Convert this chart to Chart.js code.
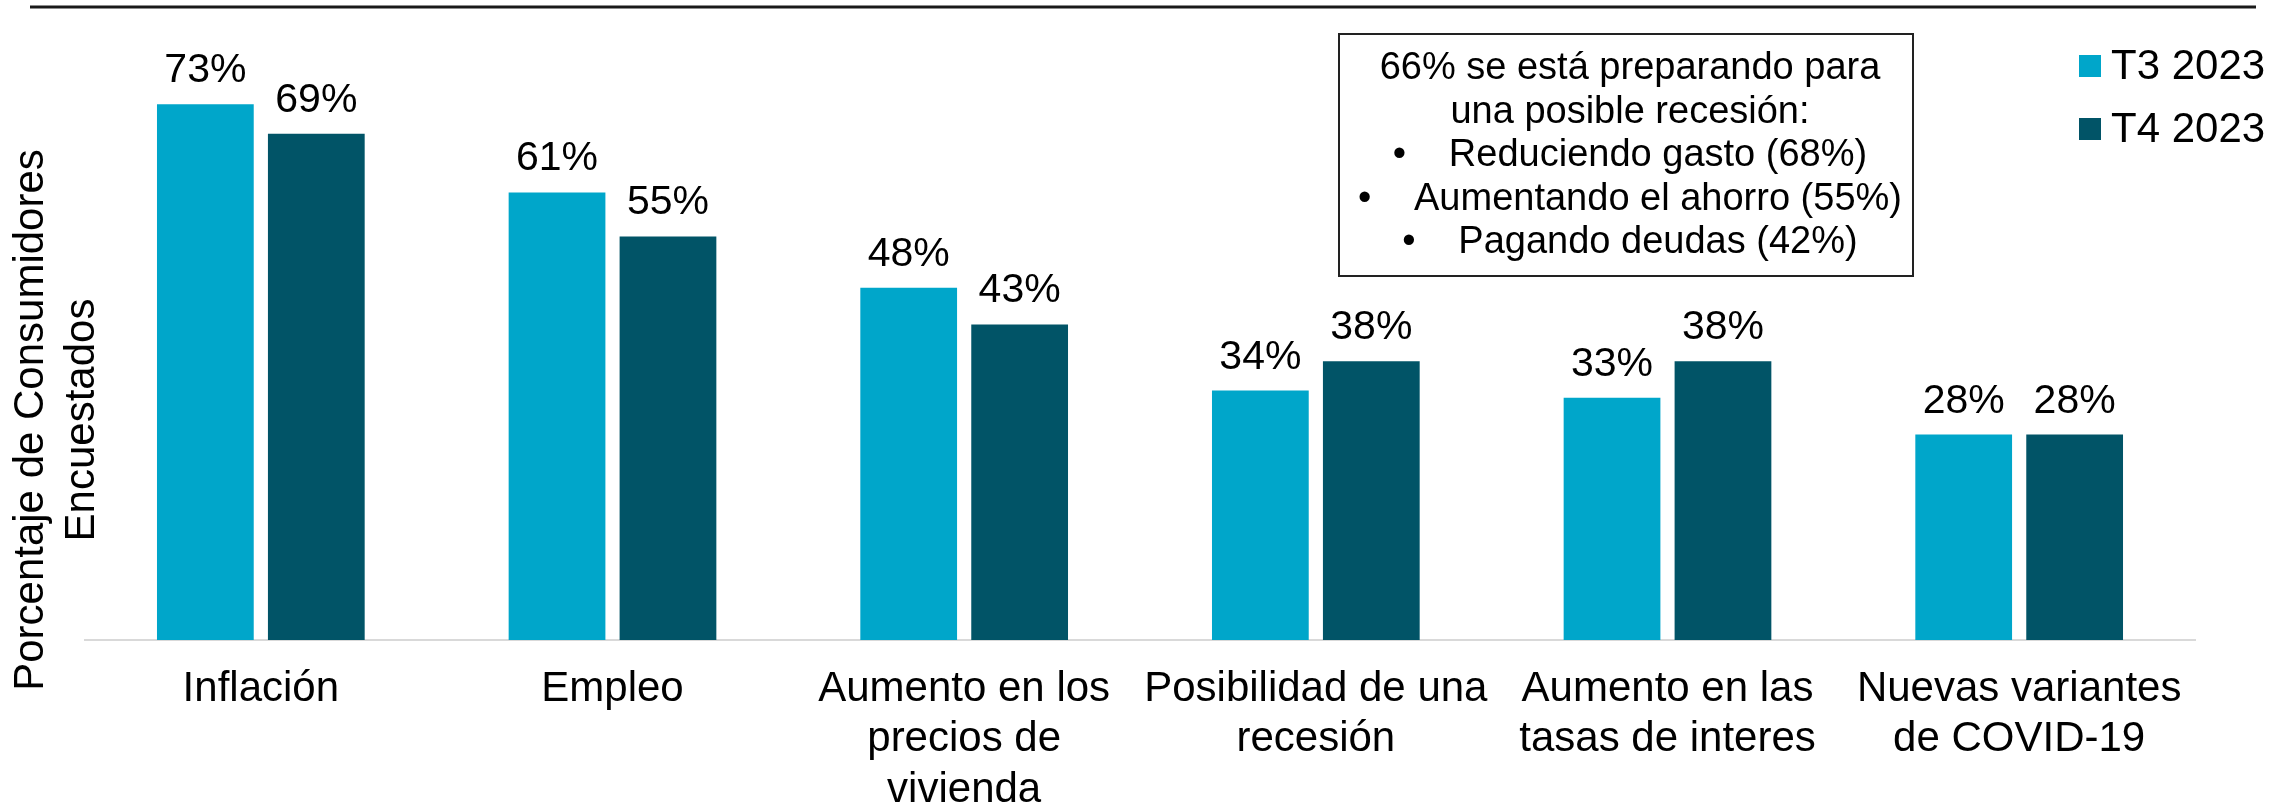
<!DOCTYPE html>
<html>
<head>
<meta charset="utf-8">
<script src="https://cdn.jsdelivr.net/npm/chart.js@4"></script>
<style>
    html, body { margin: 0; padding: 0; background: #fff; }
    #wrap { width: 2292px; height: 806px; }
</style>
</head>
<body>
<div id="wrap"><canvas id="concernChart" width="2292" height="806"></canvas></div>
<script>

// data

const categories = [
    ['Inflación'],
    ['Empleo'],
    ['Aumento en los', 'precios de', 'vivienda'],
    ['Posibilidad de una', 'recesión'],
    ['Aumento en las', 'tasas de interes'],
    ['Nuevas variantes', 'de COVID-19'],
];
const seriesNames = ['T3 2023', 'T4 2023'];
const t3Values = [73, 61, 48, 34, 33, 28];
const t4Values = [69, 55, 43, 38, 38, 28];

const yTitle = ['Porcentaje de Consumidores', 'Encuestados'];
const noteTitle = ['66% se está preparando para', 'una posible recesión:'];
const noteBullets = ['Reduciendo gasto (68%)', 'Aumentando el ahorro (55%)', 'Pagando deudas (42%)'];

const colors = ['#00a6ca', '#015467'];
const fontFamily = '"Liberation Sans", Arial, sans-serif';


// everything that is not a bar: labels on bars, title, note box, legend, top rule
const extrasPlugin = {
    id: 'extras',
    afterDatasetsDraw(chart) {
        const ctx = chart.ctx;
        ctx.save();
        ctx.fillStyle = '#000';
        ctx.font = `41px ${fontFamily}`;
        ctx.textAlign = 'center';
        ctx.textBaseline = 'alphabetic';
        chart.data.datasets.forEach((ds, i) => {
            chart.getDatasetMeta(i).data.forEach((bar, j) => {
                ctx.fillText(ds.data[j] + '%', bar.x, bar.y - 22);
            });
        });
        ctx.restore();
    },
    afterDraw(chart) {
        const ctx = chart.ctx;
        ctx.save();

        // top rule
        ctx.strokeStyle = '#1a1a1a';
        ctx.lineWidth = 3;
        ctx.beginPath();
        ctx.moveTo(30, 7);
        ctx.lineTo(2256, 7);
        ctx.stroke();

        // y title (two rotated lines)
        ctx.fillStyle = '#000';
        ctx.font = `42px ${fontFamily}`;
        ctx.textAlign = 'center';
        ctx.textBaseline = 'middle';
        [31, 82].forEach((x, i) => {
            ctx.save();
            ctx.translate(x, 420);
            ctx.rotate(-Math.PI / 2);
            ctx.fillText(yTitle[i], 0, 0);
            ctx.restore();
        });

        // note box
        ctx.strokeStyle = '#222';
        ctx.lineWidth = 2;
        ctx.strokeRect(1339, 34, 574, 242);
        ctx.font = `38px ${fontFamily}`;
        let lineY = 69;
        const boxMid = 1630;
        noteTitle.forEach(t => {
            ctx.textAlign = 'center';
            ctx.fillText(t, boxMid, lineY);
            lineY += 43.5;
        });
        noteBullets.forEach(t => {
            let w = ctx.measureText(t).width;
            let left = boxMid - (56 + w) / 2;
            ctx.textAlign = 'left';
            ctx.fillText('•', left, lineY);
            ctx.fillText(t, left + 56, lineY);
            lineY += 43.5;
        });

        // legend
        ctx.font = `42px ${fontFamily}`;
        ctx.textAlign = 'left';
        chart.data.datasets.forEach((ds, i) => {
            let cy = 66 + i * 63;
            ctx.fillStyle = ds.backgroundColor;
            ctx.fillRect(2079, cy - 11, 22, 22);
            ctx.fillStyle = '#000';
            ctx.fillText(ds.label, 2111, cy + 1);
        });

        ctx.restore();
    }
};


new Chart(document.getElementById('concernChart'), {
    type: 'bar',
    data: {
        labels: categories,
        datasets: [
            { label: seriesNames[0], data: t3Values, backgroundColor: colors[0] },
            { label: seriesNames[1], data: t4Values, backgroundColor: colors[1] },
        ],
    },
    options: {
        responsive: false,
        animation: false,
        devicePixelRatio: 1,
        layout: { padding: { left: 85, right: 97, top: 53, bottom: 0 } },
        datasets: {
            bar: { categoryPercentage: 0.631, barPercentage: 0.872 },
        },
        plugins: {
            legend: { display: false },
            tooltip: { enabled: false },
        },
        scales: {
            x: {
                grid: { display: false, drawTicks: false },
                border: { display: true, color: '#d9d9d9', width: 2 },
                ticks: {
                    color: '#000',
                    font: { family: fontFamily, size: 42, lineHeight: 1.2 },
                    padding: 24,
                    autoSkip: false,
                    maxRotation: 0,
                },
                afterFit: (scale) => { scale.height = 166; },
            },
            y: {
                display: false,
                min: 0,
                max: 80,
            },
        },
    },
    plugins: [extrasPlugin],
});

</script>
</body>
</html>
